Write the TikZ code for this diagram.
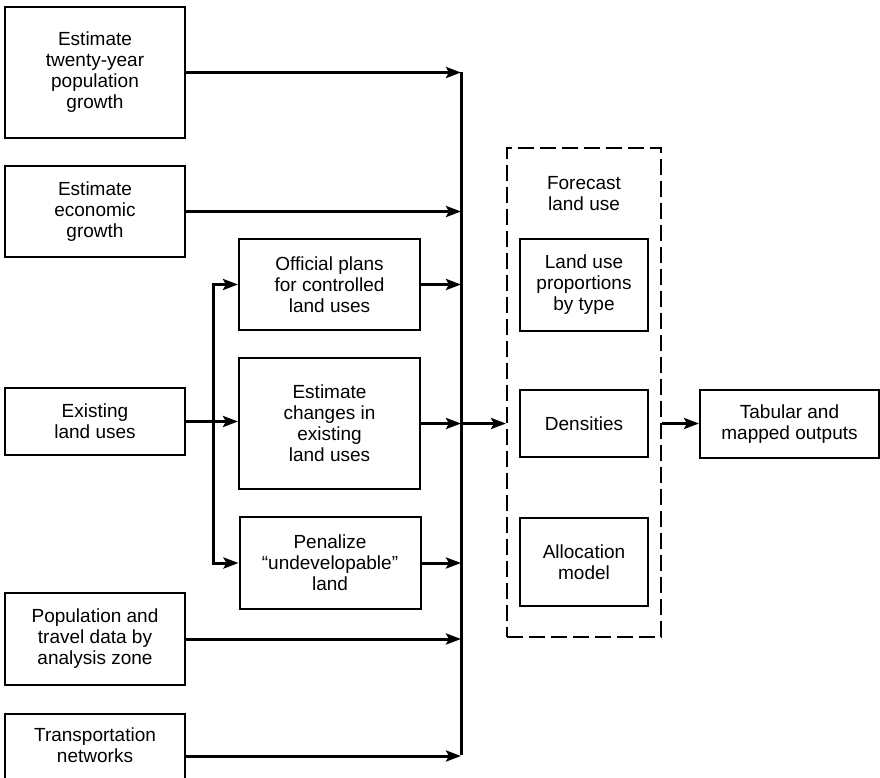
\documentclass[tikz,border=0pt]{standalone}
\usepackage{fontspec}
\setmainfont{Liberation Sans}
\usetikzlibrary{arrows.meta}

\begin{document}
\begin{tikzpicture}[x=1pt,y=-1pt,
  box/.style={draw, line width=2pt, align=center, inner sep=0pt, font=\fontsize{19}{21}\selectfont},
  grouplabel/.style={align=center, inner sep=0pt, font=\fontsize{19}{21}\selectfont},
  groupbox/.style={draw, line width=2pt, dash pattern=on 16pt off 6pt, inner sep=0pt},
  feed/.style={line width=3pt},
  conn/.style={line width=3pt, -{Stealth[length=15pt,width=11pt,inset=3pt]}}]
\useasboundingbox (0,0) rectangle (880,778);
\clip (0,0) rectangle (880,778);
\node[box, minimum width=180, minimum height=131] (popgrowth) at (95,72.5) {Estimate\\twenty-year\\population\\growth};
\node[box, minimum width=180, minimum height=91] (econgrowth) at (95,211.5) {Estimate\\economic\\growth};
\node[box, minimum width=180, minimum height=67] (existing) at (95,421.5) {Existing\\land uses};
\node[box, minimum width=180, minimum height=92] (traveldata) at (95,639) {Population and\\travel data by\\analysis zone};
\node[box, minimum width=180, minimum height=84, anchor=north] (transnet) at (95,713) {Transportation\\networks\\\mbox{}};
\node[box, minimum width=181, minimum height=91] (officialplans) at (329.5,284.5) {Official plans\\for controlled\\land uses};
\node[box, minimum width=181, minimum height=131] (estchanges) at (329.5,423.5) {Estimate\\changes in\\existing\\land uses};
\node[box, minimum width=181, minimum height=92] (penalize) at (330,563) {Penalize\\``undevelopable''\\land};
\node[groupbox, minimum width=154, minimum height=489] (forecast) at (584,392.5) {};
\node[grouplabel] (forecastlabel) at (584,194) {Forecast\\land use};
\node[box, minimum width=128, minimum height=92] (proportions) at (584,285) {Land use\\proportions\\by type};
\node[box, minimum width=128, minimum height=67] (densities) at (584,423.5) {Densities};
\node[box, minimum width=128, minimum height=88] (allocation) at (584,562) {Allocation\\model};
\node[box, minimum width=179, minimum height=68] (outputs) at (789.5,424) {Tabular and\\mapped outputs};
\coordinate (bustop) at (461,72.5);
\coordinate (busbottom) at (461,755);
\coordinate (split) at (213,421.5);
\draw[feed] (bustop) -- (busbottom);
\draw[conn] (popgrowth.east) -- (popgrowth.east -| bustop);
\draw[conn] (econgrowth.east) -- (econgrowth.east -| bustop);
\draw[conn] (traveldata.east) -- (traveldata.east -| bustop);
\draw[conn] (transnet.east) -- (transnet.east -| bustop);
\draw[conn] (existing.east) -- (existing.east -| estchanges.west);
\draw[conn] (split) |- (officialplans.west);
\draw[conn] (split) |- (penalize.west);
\draw[conn] (officialplans.east) -- (officialplans.east -| bustop);
\draw[conn] (estchanges.east) -- (estchanges.east -| bustop);
\draw[conn] (penalize.east) -- (penalize.east -| bustop);
\draw[conn] (estchanges.east -| bustop) -- (estchanges.east -| forecast.west);
\draw[conn] (estchanges.east -| forecast.east) -- (estchanges.east -| outputs.west);
\end{tikzpicture}
\end{document}
